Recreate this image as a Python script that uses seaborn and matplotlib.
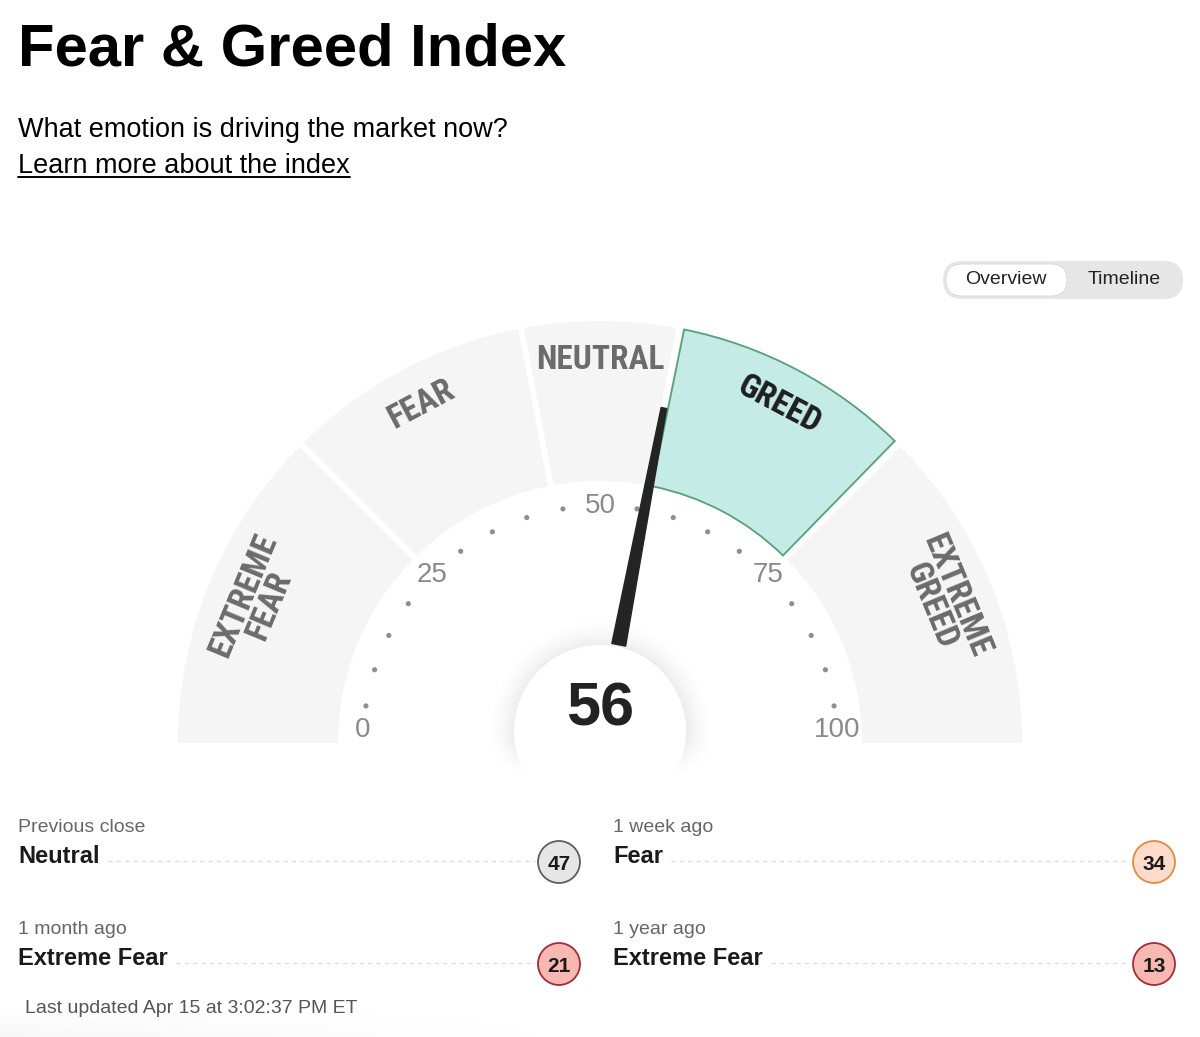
import matplotlib
matplotlib.use('Agg')
import numpy as np
import matplotlib.pyplot as plt
import seaborn as sns
from matplotlib.patches import Wedge, Circle, Polygon, FancyBboxPatch

# ---- data ----
zone_names = ['EXTREME\nFEAR', 'FEAR', 'NEUTRAL', 'GREED', 'EXTREME\nGREED']
zone_edges = [0, 25, 44, 56, 75, 100]
current_value = 56
current_zone = 'GREED'
scale_labels = [0, 25, 50, 75, 100]
dot_values = [5, 10, 15, 20, 30, 35, 40, 45, 55, 60, 65, 70, 80, 85, 90, 95]

history_periods = ['Previous close', '1 week ago', '1 month ago', '1 year ago']
history_ratings = ['Neutral', 'Fear', 'Extreme Fear', 'Extreme Fear']
history_values = [47, 34, 21, 13]
updated_text = 'Last updated Apr 15 at 3:02:37 PM ET'

rating_colors = {'Neutral': ('#e6e6e6', '#5e5e5e'),
                 'Fear': ('#fbdccc', '#e08b3e'),
                 'Extreme Fear': ('#f6b8b1', '#a22d38')}

sns.set_theme(style='white')
plt.rcParams['font.family'] = ['Liberation Sans', 'DejaVu Sans']
zone_font = ['Roboto Condensed', 'DejaVu Sans']

W, H = 1200, 1037
fig = plt.figure(figsize=(12, 10.37), dpi=100)
ax = fig.add_axes([0, 0, 1, 1])


def Y(py):
    return H - py


# ---- gauge geometry ----
cx, cy = 600, Y(743)
r_out, r_in = 422, 262


def ang(v):
    return np.pi * (1 - v / 100.0)


def deg(v):
    return 180.0 * (1 - v / 100.0)


for name, v0, v1 in zip(zone_names, zone_edges[:-1], zone_edges[1:]):
    ax.add_patch(Wedge((cx, cy), r_out, deg(v1), deg(v0), width=r_out - r_in,
                       facecolor='#f5f5f5', edgecolor='none', zorder=1))
for v in zone_edges[1:-1]:
    a = ang(v)
    ax.plot([cx + (r_in - 3) * np.cos(a), cx + (r_out + 3) * np.cos(a)],
            [cy + (r_in - 3) * np.sin(a), cy + (r_out + 3) * np.sin(a)],
            color='white', lw=4.2, solid_capstyle='butt', zorder=2)

# highlighted zone
i = zone_names.index(current_zone)
ax.add_patch(Wedge((cx, cy), r_out, deg(zone_edges[i + 1]) + 0.7, deg(zone_edges[i]) - 0.7,
                   width=r_out - r_in, facecolor='#c4ebe6', edgecolor='#5a9f77',
                   lw=1.3, zorder=3))

# zone labels
for name, v0, v1 in zip(zone_names, zone_edges[:-1], zone_edges[1:]):
    vm = (v0 + v1) / 2
    r = 372 if '\n' in name else 383
    a = ang(vm)
    ax.text(cx + r * np.cos(a), cy + r * np.sin(a), name, rotation=np.degrees(a) - 90,
            rotation_mode='anchor', ha='center', va='center', fontsize=24,
            fontweight='bold', family=zone_font, linespacing=0.85,
            color='#1e1e1e' if name == current_zone else '#6b6b6b', zorder=4)

# scale dots and numbers
r_sc = 237
dx = [cx + r_sc * np.cos(ang(v)) for v in dot_values]
dy = [cy + r_sc * np.sin(ang(v)) for v in dot_values]
sns.scatterplot(x=dx, y=dy, color='#8f8f8f', s=14, edgecolor='none', ax=ax,
                legend=False, zorder=4)
for v in scale_labels:
    a = ang(v)
    lift = 13 if v in (0, 100) else 0
    ax.text(cx + r_sc * np.cos(a), cy + r_sc * np.sin(a) + lift, str(v),
            ha='center', va='center', fontsize=20, color='#8a8a8a', zorder=4)

# needle
a = ang(current_value)
u = np.array([np.cos(a), np.sin(a)])
n = np.array([-u[1], u[0]])
c = np.array([cx, cy])
b, t = c + 100 * u, c + 341 * u
needle = [b + 7 * n, t + 2.8 * n, t - 2.8 * n, b - 7 * n]
ax.add_patch(Polygon(needle, closed=True, facecolor='#242424', edgecolor='#242424',
                     lw=1, joinstyle='round', zorder=5))

# center disc with a soft shadow that fades out below the gauge base
hx, hy_px, hr = 600, 731, 86
gx, gy = np.meshgrid(np.arange(470, 731), np.arange(600, 801))
rr = np.hypot(gx - hx, gy - hy_px)
fade_r = np.clip(1 - (rr - hr) / 32.0, 0, 1) ** 2
fade_y = np.clip((775 - gy) / 35.0, 0, 1)
glow = np.zeros(gx.shape + (4,))
glow[..., 3] = 0.075 * fade_r * fade_y
ax.imshow(glow, extent=[470, 731, Y(801), Y(600)], origin='upper', aspect='auto',
          interpolation='bilinear', zorder=4)
ax.add_patch(Circle((hx, Y(hy_px)), hr, facecolor='white', edgecolor='none', zorder=6))
ax.text(600, Y(725), str(current_value), ha='center', va='baseline', fontsize=44,
        fontweight='bold', color='#222222', zorder=7)

# ---- header ----
ax.text(18, Y(65), 'Fear & Greed Index', fontsize=43, fontweight='bold', color='black',
        ha='left', va='baseline')
ax.text(18, Y(137), 'What emotion is driving the market now?', fontsize=19.5,
        color='black', ha='left', va='baseline')
link = ax.text(18, Y(173), 'Learn more about the index', fontsize=19.5, color='black',
               ha='left', va='baseline')

# toggle
ax.add_patch(FancyBboxPatch((943, Y(299)), 240, 38, boxstyle='round,pad=0,rounding_size=19',
                            facecolor='#e6e6e6', edgecolor='none'))
ax.add_patch(FancyBboxPatch((946, Y(296)), 121, 32, boxstyle='round,pad=0,rounding_size=16',
                            facecolor='white', edgecolor='#d6d6d6', lw=0.6))
ax.text(1006, Y(280), 'Overview', fontsize=14, color='#222222', ha='center', va='center')
ax.text(1124, Y(280), 'Timeline', fontsize=14, color='#222222', ha='center', va='center')

# ---- history rows ----
col_x = [18, 613, 18, 613]
badge_x = [559, 1154, 559, 1154]
row_y = [832, 832, 934, 934]
rating_texts = []
for k, (per, rat, val) in enumerate(zip(history_periods, history_ratings, history_values)):
    y0 = row_y[k]
    ax.text(col_x[k], Y(y0), per, fontsize=14, color='#666666', ha='left', va='baseline')
    rt = ax.text(col_x[k], Y(y0 + 31), rat, fontsize=17, fontweight='bold', color='#1a1a1a',
                 ha='left', va='baseline')
    rating_texts.append(rt)
    fc, ec = rating_colors[rat]
    ax.add_patch(Circle((badge_x[k], Y(y0 + 30)), 21, facecolor=fc, edgecolor=ec, lw=1.3,
                        zorder=3))
    ax.text(badge_x[k], Y(y0 + 30), str(val), fontsize=15, fontweight='bold',
            color='#1a1a1a', ha='center', va='center_baseline', zorder=4)

ax.text(25, Y(1013), updated_text, fontsize=14, color='#555555', ha='left', va='baseline')

# bottom-left soft shade
sy, sx = np.mgrid[0:1:30j, 0:1:200j]
shade = np.zeros((30, 200, 4))
shade[..., :3] = 0.5
shade[..., 3] = 0.06 * sy * np.clip(1 - sx, 0, 1) ** 1.5
ax.imshow(shade, extent=[0, 640, Y(1037), Y(1008)], origin='upper', aspect='auto', zorder=0)

ax.set_xlim(0, W)
ax.set_ylim(0, H)
ax.set_aspect('auto')
ax.axis('off')

# underline and dotted leaders need text extents
fig.canvas.draw()
rend = fig.canvas.get_renderer()
inv = ax.transData.inverted()
bb = link.get_window_extent(rend)
(x0, _), (x1, _) = inv.transform([[bb.x0, bb.y0], [bb.x1, bb.y1]])
ax.plot([x0, x1], [Y(177), Y(177)], color='black', lw=1.4)
for k, rt in enumerate(rating_texts):
    bb = rt.get_window_extent(rend)
    ex = inv.transform([[bb.x1, bb.y0]])[0][0]
    ax.plot([ex + 8, badge_x[k] - 24], [Y(row_y[k] + 29)] * 2, color='#dddddd', lw=1,
            dashes=(3, 3), zorder=1)

fig.savefig('out.png', dpi=100)
